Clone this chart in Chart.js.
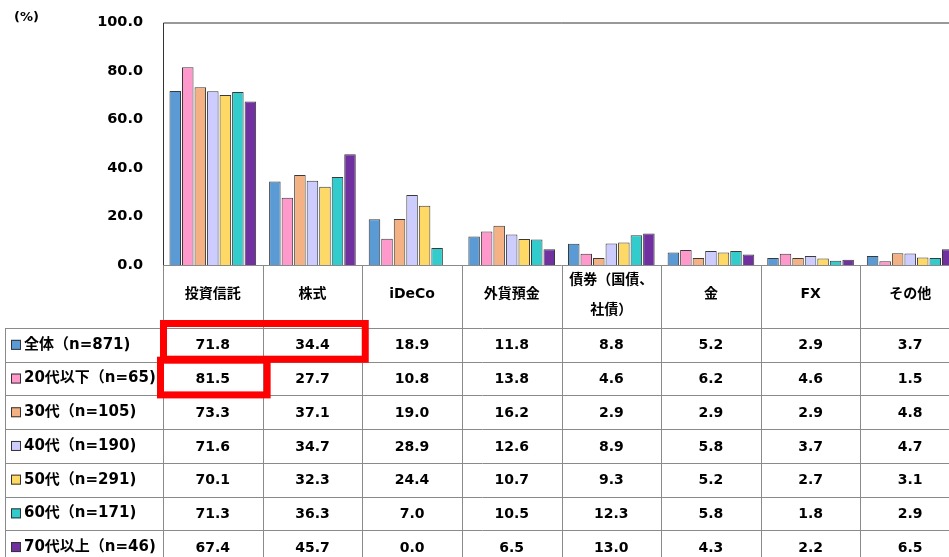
<!DOCTYPE html>
<html>
<head>
<meta charset="utf-8">
<script src="https://cdn.jsdelivr.net/npm/chart.js@4"></script>
<style>
  html, body { margin: 0; padding: 0; background: #fff; overflow: hidden; }
  #wrap { width: 960px; height: 557px; position: relative; }
</style>
</head>
<body>
<div id="wrap"><canvas id="myChart"></canvas></div>
<script>
const categories = ['投資信託', '株式', 'iDeCo', '外貨預金', ['債券（国債、', '社債）'], '金', 'FX', 'その他'];
const groups = ['全体（n=871)', '20代以下（n=65)', '30代（n=105)', '40代（n=190)', '50代（n=291)', '60代（n=171)', '70代以上（n=46)'];
const zentai   = [71.8, 34.4, 18.9, 11.8, 8.8, 5.2, 2.9, 3.7];
const age20    = [81.5, 27.7, 10.8, 13.8, 4.6, 6.2, 4.6, 1.5];
const age30    = [73.3, 37.1, 19.0, 16.2, 2.9, 2.9, 2.9, 4.8];
const age40    = [71.6, 34.7, 28.9, 12.6, 8.9, 5.8, 3.7, 4.7];
const age50    = [70.1, 32.3, 24.4, 10.7, 9.3, 5.2, 2.7, 3.1];
const age60    = [71.3, 36.3, 7.0, 10.5, 12.3, 5.8, 1.8, 2.9];
const age70    = [67.4, 45.7, 0.0, 6.5, 13.0, 4.3, 2.2, 6.5];
const yTicks = [0, 20, 40, 60, 80, 100];

const series = [zentai, age20, age30, age40, age50, age60, age70];
const colors = ['#5B9BD5', '#FF99CC', '#F4B183', '#CCCCFF', '#FFD966', '#33CCCC', '#7030A0'];
const FONT = '"DejaVu Sans", "Noto Sans CJK JP", sans-serif';

const ROW_TOP = 328, ROW_H = 33.7, TABLE_LEFT = 5;

// data table under the plot + the red marks
const tablePlugin = {
  id: 'table',
  afterDraw(chart) {
    const c = chart.ctx, a = chart.chartArea, x = chart.scales.x;
    const catW = (a.right - a.left) / categories.length;
    const rowsBottom = ROW_TOP + ROW_H * groups.length;
    c.save();
    // plot frame
    c.strokeStyle = '#333';
    c.lineWidth = 1;
    c.beginPath();
    c.moveTo(a.left + 0.5, a.bottom);
    c.lineTo(a.left + 0.5, a.top + 0.5);
    c.lineTo(a.right, a.top + 0.5);
    c.stroke();
    // table lines
    c.strokeStyle = '#8a8a8a';
    c.beginPath();
    c.moveTo(a.left, a.bottom + 0.5);
    c.lineTo(a.right, a.bottom + 0.5);
    for (let i = 0; i <= categories.length; i++) {
      const px = Math.round(a.left + i * catW) + 0.5;
      c.moveTo(px, a.bottom);
      c.lineTo(px, rowsBottom);
    }
    c.moveTo(TABLE_LEFT + 0.5, ROW_TOP);
    c.lineTo(TABLE_LEFT + 0.5, rowsBottom);
    for (let r = 0; r <= groups.length; r++) {
      const py = Math.round(ROW_TOP + r * ROW_H) + 0.5;
      c.moveTo(TABLE_LEFT, py);
      c.lineTo(a.right, py);
    }
    c.stroke();

    // header
    c.fillStyle = '#000';
    c.textAlign = 'center';
    c.textBaseline = 'middle';
    c.font = 'bold 14px ' + FONT;
    categories.forEach((cat, i) => {
      const cx = x.getPixelForValue(i);
      if (Array.isArray(cat)) {
        c.fillText(cat[0], cx, a.bottom + 15);
        c.fillText(cat[1], cx, a.bottom + 45);
      } else {
        c.fillText(cat, cx, a.bottom + 29);
      }
    });
    // values
    series.forEach((vals, r) => {
      const cy = ROW_TOP + r * ROW_H + ROW_H / 2 + 1;
      vals.forEach((v, i) => c.fillText(v.toFixed(1), x.getPixelForValue(i), cy));
    });
    // row labels with legend keys
    c.textAlign = 'left';
    c.font = 'bold 15px ' + FONT;
    groups.forEach((g, r) => {
      const cy = ROW_TOP + r * ROW_H + ROW_H / 2;
      c.fillStyle = colors[r];
      c.fillRect(11, cy - 5, 10, 10);
      c.strokeStyle = '#333';
      c.lineWidth = 1;
      c.strokeRect(11.5, cy - 4.5, 9, 9);
      c.fillStyle = '#000';
      c.fillText(g, 24, cy);
    });
    // unit
    c.font = 'bold 13px ' + FONT;
    c.fillText('(%)', 14, 18);

    // red annotation boxes
    c.strokeStyle = '#FF0000';
    c.lineWidth = 7;
    const colX = i => a.left + i * catW;
    const rowY = r => ROW_TOP + r * ROW_H;
    c.strokeRect(colX(0) + 0.5, rowY(0) - 4.5, colX(2) - colX(0) + 2.5, ROW_H + 2);
    c.strokeRect(colX(0) - 2.5, rowY(1) - 1.5, colX(1) - colX(0) + 7, ROW_H + 1);
    c.restore();
  }
};

new Chart(document.getElementById('myChart'), {
  type: 'bar',
  data: {
    labels: categories,
    datasets: series.map((d, i) => ({
      label: groups[i],
      data: d,
      backgroundColor: colors[i],
      borderColor: '#3a3a3a',
      borderWidth: 1,
      categoryPercentage: 0.88,
      barPercentage: 0.92
    }))
  },
  options: {
    responsive: true,
    maintainAspectRatio: false,
    animation: false,
    layout: { padding: { top: 22.5, bottom: 292, right: 0, left: 0 } },
    plugins: { legend: { display: false }, tooltip: { enabled: false } },
    scales: {
      x: { display: false },
      y: {
        min: 0,
        max: 100,
        afterFit(scale) { scale.width = 163; },
        afterBuildTicks(scale) { scale.ticks = yTicks.map(v => ({ value: v })); },
        grid: { display: false },
        border: { display: false },
        ticks: {
          color: '#000',
          padding: 12,
          font: { family: FONT, size: 14.5, weight: 'bold' },
          callback: v => v.toFixed(1)
        }
      }
    }
  },
  plugins: [tablePlugin]
});
</script>
</body>
</html>
